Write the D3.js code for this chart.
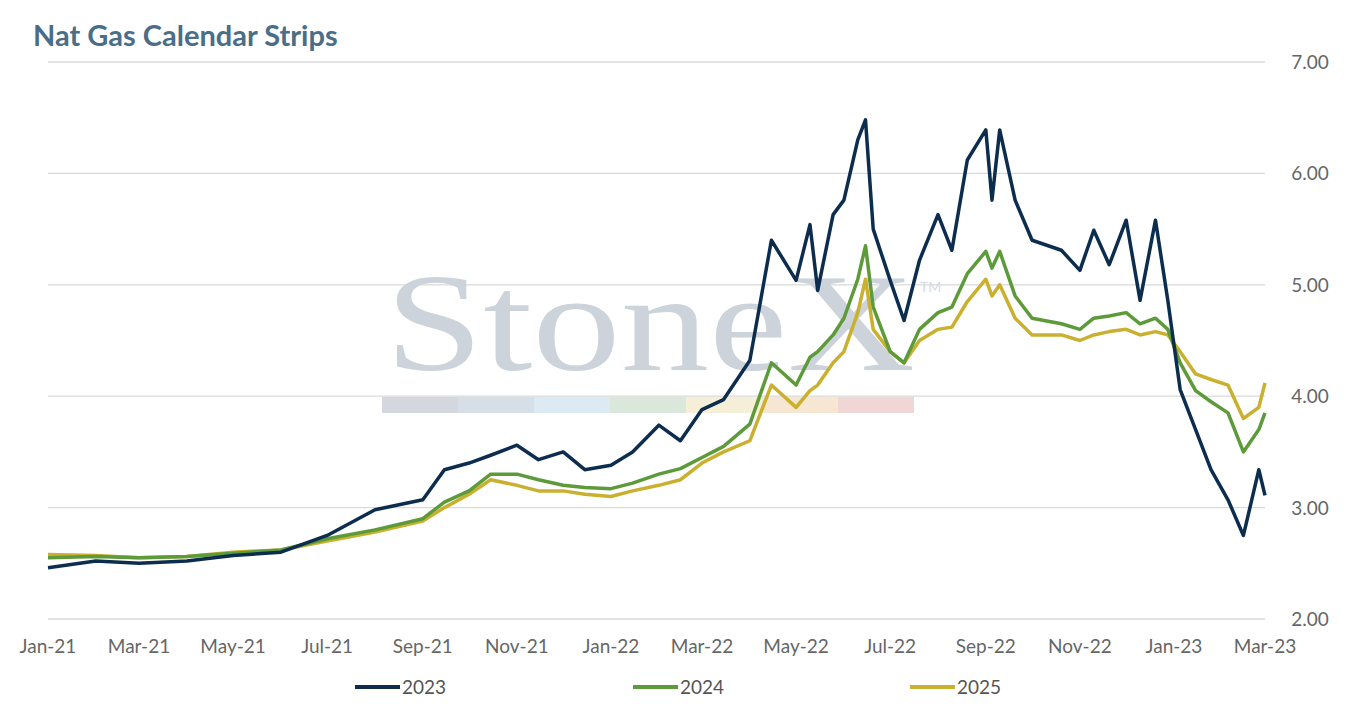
<!DOCTYPE html>
<html><head><meta charset="utf-8">
<script src="https://cdn.jsdelivr.net/npm/d3@7"></script>
<style>body{margin:0;background:#fff;font-family:Lato,"Open Sans",sans-serif}</style>
</head><body><svg id="c"></svg>
<script>
const dates = ["2021-01-01","2021-02-01","2021-03-01","2021-04-01","2021-05-01","2021-06-01","2021-07-01","2021-08-01","2021-09-01","2021-09-15","2021-10-01","2021-10-15","2021-11-01","2021-11-15","2021-12-01","2021-12-15","2022-01-01","2022-01-15","2022-02-01","2022-02-15","2022-03-01","2022-03-15","2022-04-01","2022-04-15","2022-05-01","2022-05-10","2022-05-15","2022-05-25","2022-06-01","2022-06-10","2022-06-15","2022-06-20","2022-07-01","2022-07-10","2022-07-20","2022-08-01","2022-08-10","2022-08-20","2022-09-01","2022-09-05","2022-09-10","2022-09-20","2022-10-01","2022-10-20","2022-11-01","2022-11-10","2022-11-20","2022-12-01","2022-12-10","2022-12-20","2022-12-28","2023-01-05","2023-01-15","2023-01-25","2023-02-05","2023-02-15","2023-02-25","2023-03-01"];
const s2023 = [2.46,2.52,2.50,2.52,2.57,2.60,2.75,2.98,3.07,3.34,3.40,3.47,3.56,3.43,3.50,3.34,3.38,3.50,3.74,3.60,3.88,3.97,4.32,5.40,5.04,5.54,4.95,5.63,5.76,6.30,6.48,5.50,5.04,4.68,5.22,5.63,5.31,6.12,6.39,5.76,6.39,5.76,5.40,5.31,5.13,5.49,5.18,5.58,4.86,5.58,4.86,4.06,3.70,3.34,3.07,2.75,3.34,3.11];
const s2024 = [2.55,2.56,2.55,2.56,2.59,2.62,2.72,2.80,2.90,3.05,3.15,3.30,3.30,3.25,3.20,3.18,3.17,3.22,3.30,3.35,3.45,3.55,3.75,4.30,4.10,4.35,4.40,4.55,4.70,5.05,5.35,4.80,4.40,4.30,4.60,4.75,4.80,5.10,5.30,5.15,5.30,4.90,4.70,4.65,4.60,4.70,4.72,4.75,4.65,4.70,4.60,4.30,4.05,3.95,3.85,3.50,3.70,3.85];
const s2025 = [2.58,2.57,2.55,2.56,2.60,2.62,2.70,2.78,2.88,3.00,3.12,3.25,3.20,3.15,3.15,3.12,3.10,3.15,3.20,3.25,3.40,3.50,3.60,4.10,3.90,4.05,4.10,4.30,4.40,4.75,5.05,4.60,4.40,4.30,4.50,4.60,4.62,4.85,5.05,4.90,5.00,4.70,4.55,4.55,4.50,4.55,4.58,4.60,4.55,4.58,4.55,4.40,4.20,4.15,4.10,3.80,3.90,4.12];
const seriesNames = ["2023","2024","2025"];
const colors = ["#0d2d4f","#5c9a3a","#c9b02f"];
const yTicks = [2,3,4,5,6,7];
const xTickDates = ["2021-01-01","2021-03-01","2021-05-01","2021-07-01","2021-09-01","2021-11-01","2022-01-01","2022-03-01","2022-05-01","2022-07-01","2022-09-01","2022-11-01","2023-01-01","2023-03-01"];

const W=1354,H=708;
const svg=d3.select("#c").attr("width",W).attr("height",H);
const parse=d3.timeParse("%Y-%m-%d");
const x=d3.scaleTime().domain([parse("2021-01-01"),parse("2023-03-01")]).range([48,1265]);
const y=d3.scaleLinear().domain([2,7]).range([619,62]);

svg.append("text").attr("x",33).attr("y",46).text("Nat Gas Calendar Strips")
  .attr("font-size",29).attr("font-weight","bold").attr("fill","#4a6e87");

svg.selectAll(".grid").data(yTicks).enter().append("line")
  .attr("x1",48).attr("x2",1265).attr("y1",d=>y(d)).attr("y2",d=>y(d))
  .attr("stroke","#d9d9d9").attr("stroke-width",1.3);
svg.selectAll(".yl").data(yTicks).enter().append("text")
  .attr("x",1310).attr("y",d=>y(d)+7).attr("text-anchor","middle")
  .attr("font-size",19).attr("fill","#666").text(d=>d.toFixed(2));

// watermark
svg.append("text").attr("x",385).attr("y",370)
  .attr("font-family","'Liberation Serif',serif").attr("font-size",140)
  .attr("textLength",530).attr("lengthAdjust","spacingAndGlyphs")
  .attr("fill","#ccd3db").text("StoneX");
svg.append("text").attr("x",920).attr("y",292).attr("font-size",14).attr("fill","#d5dbe1").text("TM");
const wm=["#d4d8de","#d6dfe8","#dceaf3","#dae8dc","#f4efd6","#f6e6d2","#f1d6d6"];
svg.selectAll(".wm").data(wm).enter().append("rect")
  .attr("x",(d,i)=>382+i*76).attr("y",397).attr("width",76).attr("height",16).attr("fill",d=>d);

svg.selectAll(".xl").data(xTickDates).enter().append("text")
  .attr("x",d=>x(parse(d))).attr("y",653).attr("text-anchor","middle")
  .attr("font-size",19).attr("fill","#666").text(d=>d3.timeFormat("%b-%y")(parse(d)));

const line=d3.line().x((d,i)=>x(parse(dates[i]))).y(d=>y(d)).curve(d3.curveLinear);
[s2025,s2024,s2023].forEach((s,k)=>{
  const c=colors[2-k];
  svg.append("path").attr("d",line(s)).attr("fill","none").attr("stroke",c)
    .attr("stroke-width",3.5).attr("stroke-linejoin","round");
});

const lx=[355,633,910];
seriesNames.forEach((n,i)=>{
  svg.append("line").attr("x1",lx[i]).attr("x2",lx[i]+45).attr("y1",687).attr("y2",687)
    .attr("stroke",colors[i]).attr("stroke-width",4);
  svg.append("text").attr("x",lx[i]+47).attr("y",694).attr("font-size",19).attr("fill","#555").text(n);
});
</script></body></html>
